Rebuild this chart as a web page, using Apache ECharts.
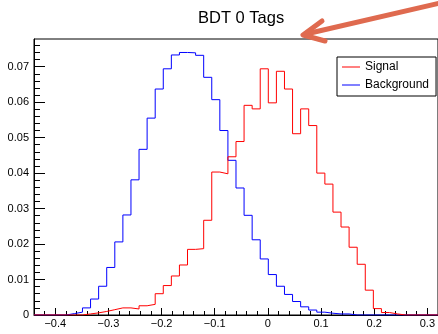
<!DOCTYPE html>
<html>
<head>
<meta charset="utf-8">
<script src="https://cdn.jsdelivr.net/npm/echarts@6/dist/echarts.min.js"></script>
<style>
html,body{margin:0;padding:0;background:#fff;}
#chart{width:438px;height:334px;}
</style>
</head>
<body>
<div id="chart"></div>
<script>
// ---- data ----
var titleText = 'BDT 0 Tags';
var seriesNames = ['Signal', 'Background'];
var binLow = -0.44;
var binHigh = 0.32;
var nBins = 50;
var signal = [
  0, 0, 0, 0, 0, 0, 0.0003, 0.0006, 0.0010, 0.0015,
  0.0020, 0.0020, 0.0017, 0.0026, 0.0030, 0.0060, 0.0083, 0.0110, 0.0141, 0.0185,
  0.0187, 0.0267, 0.0403, 0.0398, 0.0446, 0.0489, 0.0591, 0.0581, 0.0694, 0.0598,
  0.0687, 0.0637, 0.0511, 0.0581, 0.0534, 0.0400, 0.0369, 0.0290, 0.0248, 0.0191,
  0.0143, 0.0070, 0.0018, 0.0007, 0.0003, 0, 0, 0, 0, 0
];
var background = [
  0, 0, 0, 0, 0.0004, 0.0008, 0.0020, 0.0045, 0.0081, 0.0134,
  0.0206, 0.0282, 0.0381, 0.0467, 0.0555, 0.0637, 0.0694, 0.0733, 0.0740, 0.0739,
  0.0732, 0.0670, 0.0607, 0.0520, 0.0436, 0.0358, 0.0281, 0.0212, 0.0158, 0.0114,
  0.0081, 0.0058, 0.0038, 0.0023, 0.0014, 0.0008, 0.0005, 0.0003, 0.0003, 0,
  0, 0, 0, 0, 0, 0, 0, 0, 0, 0
];
var xMajorTicks = [-0.4, -0.3, -0.2, -0.1, 0, 0.1, 0.2, 0.3];
var yMajorTicks = [0, 0.01, 0.02, 0.03, 0.04, 0.05, 0.06, 0.07];
var yMax = 0.0778;

// ---- helpers ----
var binWidth = (binHigh - binLow) / nBins;
function histPoints(vals) {
  var pts = [];
  for (var i = 0; i < vals.length; i++) pts.push([binLow + i * binWidth, vals[i]]);
  pts.push([binLow + vals.length * binWidth, vals[vals.length - 1]]);
  return pts;
}
var xMinor = [];
for (var k = -22; k <= 16; k++) xMinor.push(+(k * 0.02).toFixed(2));
var yMinor = [];
for (var m = 0; m <= 38; m++) yMinor.push(+(m * 0.002).toFixed(3));

function fmtX(v) {
  if (Math.abs(v) < 1e-9) return '0';
  var s = Math.abs(v).toFixed(1);
  return v < 0 ? '\u2212' + s : s;
}
function fmtY(v) {
  if (Math.abs(v) < 1e-9) return '0';
  return v.toFixed(2);
}

var font = 'Liberation Sans, Arial, Helvetica, sans-serif';
var chart = echarts.init(document.getElementById('chart'), null, {renderer: 'canvas'});
chart.setOption({
  animation: false,
  backgroundColor: '#fff',
  title: {
    text: titleText,
    left: 193, top: 5,
    textStyle: {fontFamily: font, fontSize: 16.5, fontWeight: 'normal', color: '#000'}
  },
  legend: {
    data: seriesNames,
    orient: 'vertical',
    left: 337, top: 57,
    padding: [3, 7, 4, 5],
    icon: 'rect',
    itemWidth: 18, itemHeight: 1, itemGap: 4,
    borderColor: '#000', borderWidth: 1, backgroundColor: '#fff',
    textStyle: {fontFamily: font, fontSize: 12, color: '#000', lineHeight: 14}
  },
  grid: {
    left: 34, top: 39, width: 405, height: 276,
    show: true, borderColor: '#000', borderWidth: 1, backgroundColor: 'transparent'
  },
  xAxis: [{
    type: 'value', min: binLow, max: binHigh, position: 'bottom',
    axisLine: {show: true, onZero: false, lineStyle: {color: '#000', width: 1}},
    axisTick: {show: true, inside: true, length: 7, customValues: xMajorTicks, lineStyle: {color: '#000'}},
    axisLabel: {show: true, customValues: xMajorTicks, formatter: fmtX, margin: 3,
      fontFamily: font, fontSize: 11, color: '#000'},
    splitLine: {show: false}
  }, {
    type: 'value', min: binLow, max: binHigh, position: 'bottom',
    axisLine: {show: false, onZero: false},
    axisTick: {show: true, inside: true, length: 4, customValues: xMinor, lineStyle: {color: '#000'}},
    axisLabel: {show: false},
    splitLine: {show: false}
  }],
  yAxis: [{
    type: 'value', min: 0, max: yMax, position: 'left',
    axisLine: {show: true, onZero: false, lineStyle: {color: '#000', width: 1}},
    axisTick: {show: true, inside: true, length: 11, customValues: yMajorTicks, lineStyle: {color: '#000'}},
    axisLabel: {show: true, customValues: yMajorTicks, formatter: fmtY, margin: 5,
      fontFamily: font, fontSize: 11, color: '#000'},
    splitLine: {show: false}
  }, {
    type: 'value', min: 0, max: yMax, position: 'left',
    axisLine: {show: false, onZero: false},
    axisTick: {show: true, inside: true, length: 6, customValues: yMinor, lineStyle: {color: '#000'}},
    axisLabel: {show: false},
    splitLine: {show: false}
  }],
  series: [{
    name: seriesNames[1], type: 'line', step: 'end',
    xAxisIndex: 0, yAxisIndex: 0,
    data: histPoints(background),
    symbol: 'none', color: '#0000ff',
    lineStyle: {color: '#0000ff', width: 1}
  }, {
    name: seriesNames[0], type: 'line', step: 'end',
    xAxisIndex: 0, yAxisIndex: 0,
    data: histPoints(signal),
    symbol: 'none', color: '#ff0000',
    lineStyle: {color: '#ff0000', width: 1}
  }],
  graphic: [{
    type: 'group', z: 100,
    children: [{
      type: 'line',
      shape: {x1: 440, y1: 3, x2: 306, y2: 34},
      style: {stroke: '#df6a4f', lineWidth: 5, lineCap: 'round'}
    }, {
      type: 'polyline',
      shape: {points: [[322, 21], [303, 35], [325, 41]]},
      style: {stroke: '#df6a4f', lineWidth: 5, lineCap: 'round', lineJoin: 'round', fill: null}
    }]
  }]
});
</script>
</body>
</html>
